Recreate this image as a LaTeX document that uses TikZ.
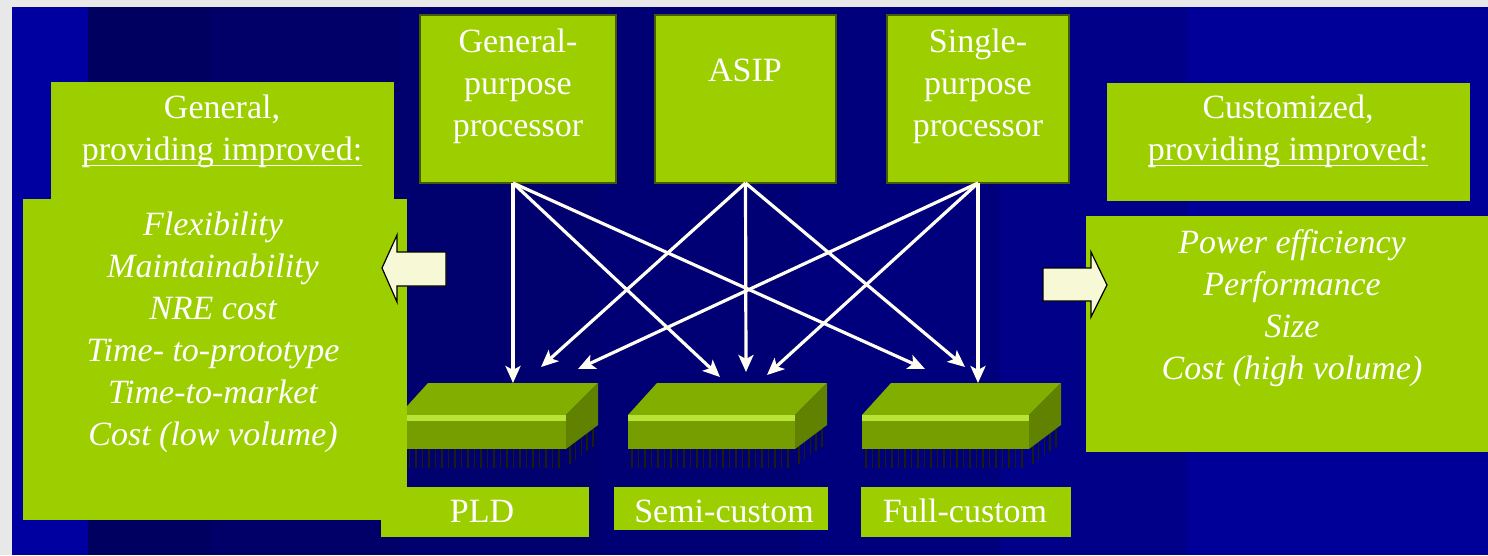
\documentclass[tikz,border=0pt]{standalone}
\usepackage{fontspec}
\setmainfont{Liberation Serif}
\usetikzlibrary{arrows.meta}

\definecolor{leaf}{RGB}{156,206,0}
\definecolor{boxedge}{RGB}{70,92,0}
\definecolor{margin}{RGB}{232,232,232}
\definecolor{chiptop}{RGB}{130,174,0}
\definecolor{chipfront}{RGB}{118,158,0}
\definecolor{chipstripe}{RGB}{184,228,56}
\definecolor{chipside}{RGB}{96,130,0}
\definecolor{pincol}{RGB}{28,30,10}
\definecolor{cream}{RGB}{246,248,214}

% underline drawn as a rule a fixed distance under the baseline
\newsavebox{\ulbox}
\newcommand{\ulined}[1]{\sbox{\ulbox}{#1}\rlap{\rule[-6pt]{\wd\ulbox}{1.6pt}}\usebox{\ulbox}}

% a chip seen in perspective; #1 is the left edge of its front face
\newcommand{\chipat}[1]{%
  \begin{scope}[shift={(#1,0)}]
    \foreach \i in {0,...,24} \draw[pin] (4+\i*6.5,449) -- ++(0,19);
    \foreach \t in {0.12,0.3,0.48,0.66,0.84} \draw[pin] (167+32*\t,449-24*\t) -- ++(0,18);
    \fill[chiptop] (0,415) -- (29,383) -- (199,383) -- (167,415) -- cycle;
    \fill[chipside] (167,415) -- (199,383) -- (199,425) -- (167,449) -- cycle;
    \fill[chipfront] (0,415) rectangle (167,449);
    \fill[chipstripe] (0,415) rectangle (167,421);
  \end{scope}}

\tikzset{
  greenbox/.style={fill=leaf, inner sep=0pt, outer sep=0pt},
  procbox/.style={greenbox, draw=boxedge, line width=1.5pt, anchor=north west},
  plain/.style={text=white, font=\fontsize{34}{42}\selectfont, align=center, inner sep=0pt},
  listtext/.style={plain, font=\fontsize{34}{42}\selectfont\itshape},
  link/.style={draw=white!94!yellow, line width=3.2pt, -{Stealth[length=17pt,width=15pt,inset=4pt]}},
  blockarrow/.style={fill=cream, draw=black, line width=1.2pt, line join=miter},
  pin/.style={draw=pincol, line width=1.6pt},
}

\begin{document}
\begin{tikzpicture}[x=1pt,y=-1pt]
\useasboundingbox (0,0) rectangle (1488,555);

% page margin and slide background
\fill[margin] (0,0) rectangle (1488,555);
\fill[fill={rgb,255:red,0;green,0;blue,160}] (12,7) rectangle (88,555);
\fill[fill={rgb,255:red,0;green,0;blue,96}]  (88,7) rectangle (210,555);
\fill[fill={rgb,255:red,0;green,0;blue,104}] (210,7) rectangle (400,555);
\fill[fill={rgb,255:red,0;green,0;blue,110}] (400,7) rectangle (600,555);
\fill[fill={rgb,255:red,0;green,0;blue,116}] (600,7) rectangle (800,555);
\fill[fill={rgb,255:red,0;green,0;blue,124}] (800,7) rectangle (1000,555);
\fill[fill={rgb,255:red,0;green,0;blue,136}] (1000,7) rectangle (1187,555);
\fill[fill={rgb,255:red,0;green,0;blue,152}] (1187,7) rectangle (1488,555);

% chips
\chipat{399}
\chipat{628}
\chipat{862}

% left panel: general solutions
\node[greenbox, anchor=north west, minimum width=343pt, minimum height=118pt] (genhead) at (51,82) {};
\node[greenbox, anchor=north west, minimum width=384pt, minimum height=321pt] (genlist) at (23,199) {};

% right panel: customized solutions
\node[greenbox, anchor=north west, minimum width=363pt, minimum height=118pt] (cushead) at (1107,83) {};
\node[greenbox, anchor=north west, minimum width=402pt, minimum height=236pt] (cuslist) at (1086,216) {};

% implementation labels
\node[greenbox, anchor=north west, minimum width=208pt, minimum height=50pt] (pldbox) at (381,487) {};
\node[greenbox, anchor=north west, minimum width=214pt, minimum height=43pt] (semibox) at (614,487) {};
\node[greenbox, anchor=north west, minimum width=210pt, minimum height=50pt] (fullbox) at (861,487) {};

% processor types
\node[procbox, minimum width=196pt, minimum height=168pt] (gpp) at (420,15) {};
\node[procbox, minimum width=181pt, minimum height=168pt] (asip) at (655,15) {};
\node[procbox, minimum width=182pt, minimum height=168pt] (spp) at (887,15) {};

% arrow end points above the chips
\coordinate (pldA) at (513,383);
\coordinate (pldB) at (541,367);
\coordinate (pldC) at (578,369);
\coordinate (semiA) at (720,377);
\coordinate (semiB) at (746,372);
\coordinate (semiC) at (767,375);
\coordinate (fullA) at (925,369);
\coordinate (fullB) at (965,367);
\coordinate (fullC) at (978,383);

% mapping arrows
\draw[link] ([xshift=-5pt]gpp.south) -- (pldA);
\draw[link] ([xshift=-5pt]gpp.south) -- (semiA);
\draw[link] ([xshift=-5pt]gpp.south) -- (fullA);
\draw[link] (asip.south) -- (pldB);
\draw[link] (asip.south) -- (semiB);
\draw[link] (asip.south) -- (fullB);
\draw[link] (spp.south) -- (pldC);
\draw[link] (spp.south) -- (semiC);
\draw[link] (spp.south) -- (fullC);

% block arrows
\draw[blockarrow] (382,268) -- (397,235) -- (397,252) -- (446,252) -- (446,286) -- (397,286) -- (397,302) -- cycle;
\draw[blockarrow] (1107,285) -- (1091,252) -- (1091,268) -- (1043,268) -- (1043,301) -- (1091,301) -- (1091,317) -- cycle;

% texts
\node[plain] (gpptext) at (518,86) {General-\\purpose\\processor};
\node[plain, anchor=base] (asiptext) at (745,81) {ASIP};
\node[plain] (spptext) at (978,86) {Single-\\purpose\\processor};

\node[plain] (genheadtext) at (222,131) {General,\\\ulined{providing improved:}};
\node[listtext] (genlisttext) at (213,332) {Flexibility\\Maintainability\\NRE cost\\Time- to-prototype\\Time-to-market\\Cost (low volume)};

\node[plain] (cusheadtext) at (1288,131) {Customized,\\\ulined{providing improved:}};
\node[listtext] (cuslisttext) at (1292,308) {Power efficiency\\Performance\\Size\\Cost (high volume)};

\node[plain, anchor=base] (pldtext) at (482,522) {PLD};
\node[plain, anchor=base] (semitext) at (724,522) {Semi-custom};
\node[plain, anchor=base] (fulltext) at (965,522) {Full-custom};
\end{tikzpicture}
\end{document}
